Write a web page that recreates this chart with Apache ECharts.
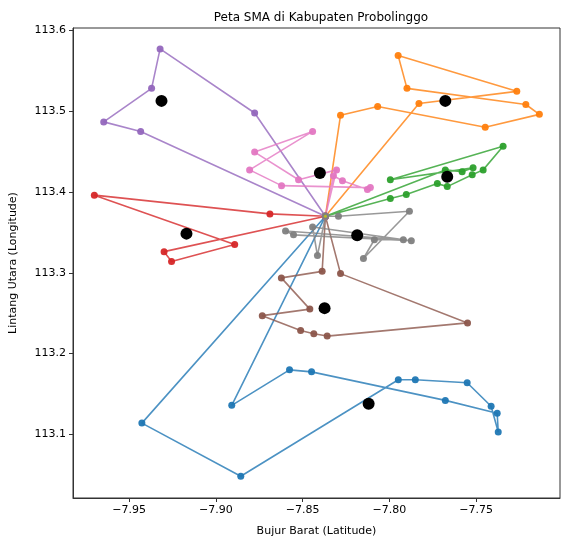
<!DOCTYPE html>
<html><head><meta charset="utf-8">
<script src="https://cdn.jsdelivr.net/npm/echarts@6/dist/echarts.min.js"></script>
<style>html,body{margin:0;padding:0;background:#fff}#c{width:561px;height:542px}</style>
</head><body><div id="c"></div>
<script>
const HUB = [-7.8369, 113.3701];
const xTicks = [-7.95, -7.90, -7.85, -7.80, -7.75];
const yTicks = [113.1, 113.2, 113.3, 113.4, 113.5, 113.6];
const routeBlue = [HUB, [-7.9427,113.114], [-7.8857,113.0482], [-7.7949,113.1677], [-7.7851,113.1677], [-7.7552,113.164], [-7.7414,113.1348], [-7.7373,113.103], [-7.7379,113.1262], [-7.7678,113.1421], [-7.8449,113.1774], [-7.8576,113.1799], [-7.8909,113.136], HUB];
const routeOrange = [HUB, [-7.783,113.5095], [-7.7266,113.5246], [-7.795,113.5689], [-7.7899,113.5283], [-7.7214,113.5083], [-7.7136,113.4961], [-7.7448,113.4802], [-7.8068,113.5059], [-7.8282,113.4949], HUB];
const routeGreen = [HUB, [-7.7995,113.3921], [-7.7903,113.397], [-7.7724,113.4104], [-7.7667,113.4067], [-7.7523,113.4213], [-7.746,113.4274], [-7.7345,113.4567], [-7.7995,113.4152], [-7.7518,113.4299], [-7.7581,113.425], [-7.7678,113.4274], HUB];
const routeRed = [HUB, [-7.8689,113.3729], [-7.9701,113.3961], [-7.8892,113.3351], [-7.9256,113.314], [-7.9299,113.3262], HUB];
const routePurple = [HUB, [-7.8777,113.4978], [-7.9322,113.5771], [-7.9371,113.5283], [-7.9647,113.4868], [-7.9434,113.475], HUB];
const routeBrown = [HUB, [-7.8282,113.299], [-7.755,113.238], [-7.8359,113.2217], [-7.8436,113.2246], [-7.8512,113.2287], [-7.8733,113.247], [-7.8459,113.2551], [-7.8623,113.2937], [-7.8388,113.3018], HUB];
const routePink = [HUB, [-7.8323,113.4201], [-7.8271,113.414], [-7.8127,113.403], [-7.811,113.4055], [-7.8622,113.4079], [-7.8806,113.4274], [-7.8443,113.475], [-7.8777,113.4494], [-7.8524,113.4152], [-7.8305,113.4274], HUB];
const routeGray = [HUB, [-7.8294,113.3701], [-7.7885,113.3762], [-7.815,113.3177], [-7.8087,113.3409], [-7.792,113.3409], [-7.8599,113.3518], [-7.8553,113.347], [-7.7874,113.3396], [-7.8443,113.3567], [-7.8415,113.3213], HUB];
const centroids = [[-7.812,113.138], [-7.7678,113.5128], [-7.7667,113.4189], [-7.917,113.3485], [-7.9314,113.5128], [-7.8374,113.2563], [-7.8401,113.4234], [-7.8186,113.3466]];

const routes = [routeBlue, routeOrange, routeGreen, routeRed, routePurple, routeBrown, routePink, routeGray];
const colors = ['#1f77b4','#ff7f0e','#2ca02c','#d62728','#9467bd','#8c564b','#e377c2','#7f7f7f'];
const FONT = 'DejaVu Sans';

const series = routes.map((r, i) => ({
  type: 'line', data: r, symbol: 'circle', symbolSize: 7, showSymbol: true,
  lineStyle: { color: colors[i], width: 1.6, opacity: 0.8 },
  itemStyle: { color: colors[i], opacity: 0.95 }, z: 2, animation: false
}));
series.push({ type: 'scatter', data: [HUB], symbolSize: 3, itemStyle: { color: '#bcbd22', opacity: 1 }, z: 3, animation: false });
series.push({ type: 'scatter', data: centroids, symbolSize: 12, itemStyle: { color: '#000000', opacity: 1 }, z: 4, animation: false });

const chart = echarts.init(document.getElementById('c'), null, { renderer: 'canvas' });
chart.setOption({
  animation: false,
  title: { text: 'Peta SMA di Kabupaten Probolinggo', left: 316, top: 7, textAlign: 'center',
    textStyle: { fontFamily: FONT, fontSize: 12, fontWeight: 'normal', color: '#000' } },
  grid: { left: 72, right: 1, top: 28, bottom: 37, show: true, borderColor: '#333', borderWidth: 1, backgroundColor: 'transparent' },
  xAxis: { type: 'value', min: -7.9824, max: -7.7017,
    name: 'Bujur Barat (Latitude)', nameLocation: 'middle', nameGap: 28,
    nameTextStyle: { fontFamily: FONT, fontSize: 11, color: '#000' },
    axisLine: { show: true, lineStyle: { color: '#333', width: 1 } },
    axisTick: { show: true, length: 4, inside: false, customValues: xTicks, lineStyle: { color: '#333' } },
    axisLabel: { customValues: xTicks, fontFamily: FONT, fontSize: 11, color: '#000', margin: 7,
      formatter: v => '\u2212' + Math.abs(v).toFixed(2) },
    splitLine: { show: false } },
  yAxis: { type: 'value', min: 113.0213, max: 113.603,
    name: 'Lintang Utara (Longitude)', nameLocation: 'middle', nameGap: 54, nameRotate: 90,
    nameTextStyle: { fontFamily: FONT, fontSize: 11, color: '#000' },
    axisLine: { show: true, lineStyle: { color: '#333', width: 1 } },
    axisTick: { show: true, length: 4, inside: false, customValues: yTicks, lineStyle: { color: '#333' } },
    axisLabel: { customValues: yTicks, fontFamily: FONT, fontSize: 11, color: '#000', margin: 7,
      formatter: v => v.toFixed(1) },
    splitLine: { show: false } },
  series: series
});
</script></body></html>
